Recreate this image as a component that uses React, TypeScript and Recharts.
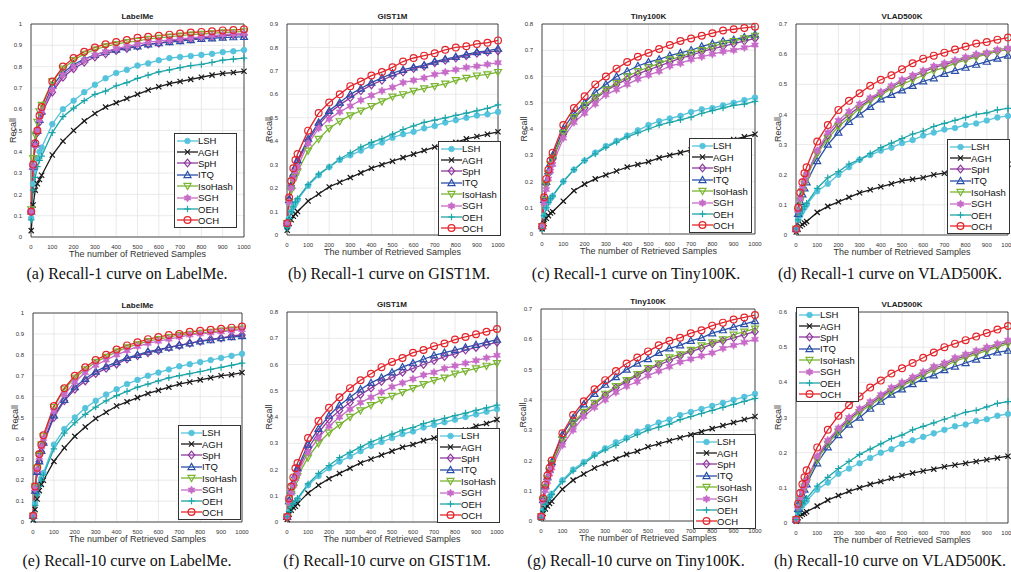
import React from 'react';
import { LineChart, Line, XAxis, YAxis, CartesianGrid, ReferenceArea } from 'recharts';

// number of retrieved samples where each curve was measured
const SAMPLES = [1, 10, 20, 30, 40, 50, 100, 150, 200, 250, 300, 350, 400, 450, 500, 550, 600, 650, 700, 750, 800, 850, 900, 950, 1000];
const X_TICKS = [0, 100, 200, 300, 400, 500, 600, 700, 800, 900, 1000];
const Y_TICKS = [0, 0.1, 0.2, 0.3, 0.4, 0.5, 0.6, 0.7, 0.8, 0.9, 1];
const METHODS = ['LSH', 'AGH', 'SpH', 'ITQ', 'IsoHash', 'SGH', 'OEH', 'OCH'];

// (a) Recall-1, LabelMe
const labelMeR1 = {
  LSH: [0.09, 0.25, 0.32, 0.37, 0.40, 0.42, 0.53, 0.60, 0.64, 0.68, 0.715, 0.745, 0.77, 0.785, 0.805, 0.815, 0.83, 0.84, 0.845, 0.85, 0.855, 0.86, 0.868, 0.872, 0.878],
  AGH: [0.03, 0.15, 0.22, 0.25, 0.27, 0.29, 0.385, 0.45, 0.50, 0.545, 0.58, 0.61, 0.63, 0.65, 0.67, 0.69, 0.705, 0.72, 0.73, 0.74, 0.75, 0.76, 0.768, 0.772, 0.778],
  SpH: [0.12, 0.33, 0.43, 0.49, 0.54, 0.58, 0.68, 0.75, 0.79, 0.82, 0.845, 0.86, 0.875, 0.885, 0.895, 0.905, 0.91, 0.92, 0.925, 0.93, 0.935, 0.94, 0.945, 0.948, 0.95],
  ITQ: [0.12, 0.33, 0.44, 0.50, 0.55, 0.59, 0.71, 0.77, 0.81, 0.835, 0.855, 0.87, 0.88, 0.89, 0.895, 0.905, 0.91, 0.915, 0.92, 0.925, 0.93, 0.933, 0.936, 0.938, 0.94],
  IsoHash: [0.13, 0.37, 0.48, 0.54, 0.59, 0.62, 0.73, 0.79, 0.83, 0.86, 0.88, 0.895, 0.905, 0.915, 0.92, 0.93, 0.935, 0.94, 0.945, 0.95, 0.953, 0.956, 0.96, 0.962, 0.965],
  SGH: [0.12, 0.33, 0.43, 0.50, 0.55, 0.59, 0.69, 0.76, 0.80, 0.83, 0.855, 0.87, 0.885, 0.895, 0.905, 0.915, 0.92, 0.925, 0.93, 0.935, 0.94, 0.945, 0.95, 0.953, 0.955],
  OEH: [0.08, 0.22, 0.28, 0.33, 0.36, 0.38, 0.49, 0.565, 0.605, 0.64, 0.67, 0.685, 0.71, 0.725, 0.745, 0.76, 0.775, 0.785, 0.795, 0.805, 0.81, 0.82, 0.83, 0.835, 0.84],
  OCH: [0.12, 0.34, 0.44, 0.50, 0.57, 0.61, 0.73, 0.80, 0.84, 0.87, 0.89, 0.905, 0.915, 0.925, 0.935, 0.94, 0.945, 0.95, 0.955, 0.96, 0.963, 0.966, 0.97, 0.972, 0.975],
};

// (b) Recall-1, GIST1M
const gistR1 = {
  LSH: [0.03, 0.07, 0.10, 0.12, 0.135, 0.15, 0.21, 0.255, 0.29, 0.32, 0.34, 0.36, 0.38, 0.395, 0.415, 0.43, 0.44, 0.455, 0.465, 0.48, 0.49, 0.50, 0.51, 0.515, 0.525],
  AGH: [0.02, 0.05, 0.065, 0.08, 0.09, 0.10, 0.145, 0.175, 0.205, 0.225, 0.245, 0.265, 0.285, 0.30, 0.315, 0.33, 0.345, 0.36, 0.375, 0.385, 0.395, 0.41, 0.42, 0.43, 0.44],
  SpH: [0.05, 0.15, 0.21, 0.255, 0.285, 0.31, 0.40, 0.47, 0.52, 0.555, 0.585, 0.615, 0.64, 0.66, 0.68, 0.695, 0.71, 0.72, 0.735, 0.745, 0.755, 0.765, 0.775, 0.78, 0.785],
  ITQ: [0.05, 0.15, 0.21, 0.26, 0.29, 0.32, 0.41, 0.48, 0.53, 0.565, 0.60, 0.625, 0.65, 0.67, 0.69, 0.705, 0.715, 0.725, 0.74, 0.75, 0.76, 0.77, 0.78, 0.785, 0.795],
  IsoHash: [0.05, 0.14, 0.19, 0.23, 0.25, 0.27, 0.36, 0.41, 0.455, 0.485, 0.51, 0.53, 0.55, 0.57, 0.59, 0.60, 0.615, 0.625, 0.635, 0.645, 0.66, 0.67, 0.68, 0.685, 0.695],
  SGH: [0.05, 0.14, 0.20, 0.24, 0.27, 0.29, 0.39, 0.455, 0.495, 0.525, 0.55, 0.575, 0.595, 0.615, 0.63, 0.65, 0.66, 0.67, 0.685, 0.695, 0.705, 0.715, 0.72, 0.728, 0.735],
  OEH: [0.03, 0.07, 0.10, 0.12, 0.14, 0.155, 0.215, 0.26, 0.29, 0.325, 0.35, 0.375, 0.395, 0.41, 0.43, 0.45, 0.465, 0.48, 0.49, 0.50, 0.51, 0.52, 0.53, 0.54, 0.555],
  OCH: [0.05, 0.16, 0.23, 0.285, 0.32, 0.345, 0.445, 0.52, 0.565, 0.60, 0.635, 0.655, 0.68, 0.695, 0.715, 0.74, 0.755, 0.765, 0.775, 0.79, 0.80, 0.805, 0.815, 0.82, 0.83],
};

// (c) Recall-1, Tiny100K
const tinyR1 = {
  LSH: [0.02, 0.07, 0.10, 0.12, 0.135, 0.145, 0.20, 0.245, 0.28, 0.31, 0.335, 0.355, 0.375, 0.395, 0.415, 0.43, 0.44, 0.45, 0.465, 0.475, 0.48, 0.49, 0.50, 0.51, 0.52],
  AGH: [0.02, 0.04, 0.06, 0.07, 0.08, 0.085, 0.125, 0.165, 0.19, 0.21, 0.225, 0.24, 0.255, 0.265, 0.275, 0.29, 0.30, 0.31, 0.32, 0.33, 0.34, 0.35, 0.36, 0.37, 0.38],
  SpH: [0.03, 0.13, 0.19, 0.23, 0.26, 0.285, 0.38, 0.44, 0.48, 0.515, 0.545, 0.57, 0.59, 0.61, 0.625, 0.64, 0.655, 0.67, 0.68, 0.695, 0.705, 0.715, 0.725, 0.735, 0.745],
  ITQ: [0.03, 0.13, 0.20, 0.24, 0.27, 0.30, 0.40, 0.46, 0.50, 0.54, 0.57, 0.60, 0.62, 0.64, 0.655, 0.665, 0.68, 0.69, 0.70, 0.715, 0.725, 0.735, 0.74, 0.75, 0.76],
  IsoHash: [0.03, 0.13, 0.19, 0.23, 0.265, 0.29, 0.385, 0.445, 0.49, 0.52, 0.55, 0.575, 0.60, 0.62, 0.635, 0.65, 0.665, 0.675, 0.69, 0.70, 0.715, 0.725, 0.735, 0.745, 0.755],
  SGH: [0.03, 0.12, 0.17, 0.21, 0.24, 0.265, 0.365, 0.425, 0.46, 0.495, 0.53, 0.55, 0.57, 0.59, 0.605, 0.62, 0.64, 0.65, 0.665, 0.675, 0.685, 0.695, 0.70, 0.71, 0.72],
  OEH: [0.02, 0.07, 0.10, 0.12, 0.135, 0.145, 0.20, 0.245, 0.28, 0.305, 0.33, 0.35, 0.37, 0.385, 0.40, 0.415, 0.425, 0.435, 0.445, 0.46, 0.47, 0.48, 0.49, 0.495, 0.505],
  OCH: [0.03, 0.14, 0.21, 0.245, 0.28, 0.31, 0.415, 0.48, 0.525, 0.57, 0.60, 0.63, 0.655, 0.675, 0.69, 0.705, 0.72, 0.735, 0.745, 0.755, 0.765, 0.775, 0.78, 0.785, 0.79],
};

// (d) Recall-1, VLAD500K
const vladR1 = {
  LSH: [0.02, 0.05, 0.065, 0.08, 0.09, 0.10, 0.145, 0.17, 0.20, 0.225, 0.25, 0.265, 0.28, 0.29, 0.305, 0.315, 0.33, 0.34, 0.35, 0.355, 0.365, 0.37, 0.38, 0.39, 0.395],
  AGH: [0.01, 0.02, 0.03, 0.035, 0.04, 0.045, 0.075, 0.095, 0.11, 0.125, 0.14, 0.15, 0.16, 0.17, 0.18, 0.185, 0.19, 0.20, 0.205, 0.21, 0.215, 0.22, 0.225, 0.23, 0.235],
  SpH: [0.02, 0.08, 0.12, 0.15, 0.175, 0.195, 0.275, 0.33, 0.37, 0.40, 0.425, 0.45, 0.47, 0.49, 0.51, 0.525, 0.54, 0.555, 0.565, 0.575, 0.585, 0.595, 0.60, 0.61, 0.615],
  ITQ: [0.02, 0.07, 0.11, 0.135, 0.155, 0.175, 0.245, 0.30, 0.34, 0.375, 0.40, 0.425, 0.45, 0.465, 0.48, 0.495, 0.51, 0.52, 0.535, 0.545, 0.555, 0.565, 0.575, 0.585, 0.595],
  IsoHash: [0.02, 0.08, 0.115, 0.145, 0.17, 0.19, 0.27, 0.32, 0.36, 0.39, 0.42, 0.445, 0.465, 0.485, 0.50, 0.515, 0.53, 0.545, 0.555, 0.57, 0.58, 0.59, 0.60, 0.61, 0.615],
  SGH: [0.02, 0.08, 0.12, 0.155, 0.18, 0.20, 0.28, 0.34, 0.38, 0.41, 0.435, 0.455, 0.475, 0.495, 0.515, 0.53, 0.545, 0.56, 0.57, 0.58, 0.59, 0.60, 0.605, 0.615, 0.62],
  OEH: [0.02, 0.05, 0.07, 0.085, 0.095, 0.105, 0.155, 0.19, 0.21, 0.235, 0.25, 0.27, 0.29, 0.305, 0.32, 0.335, 0.345, 0.36, 0.37, 0.38, 0.39, 0.40, 0.405, 0.415, 0.42],
  OCH: [0.02, 0.09, 0.14, 0.175, 0.205, 0.225, 0.31, 0.365, 0.415, 0.445, 0.47, 0.495, 0.515, 0.53, 0.55, 0.57, 0.585, 0.595, 0.605, 0.615, 0.625, 0.635, 0.64, 0.648, 0.655],
};

// (e) Recall-10, LabelMe
const labelMeR10 = {
  LSH: [0.02, 0.09, 0.14, 0.18, 0.21, 0.235, 0.37, 0.445, 0.50, 0.545, 0.58, 0.61, 0.635, 0.66, 0.68, 0.70, 0.715, 0.73, 0.745, 0.755, 0.765, 0.775, 0.785, 0.795, 0.805],
  AGH: [0.01, 0.06, 0.11, 0.15, 0.18, 0.20, 0.29, 0.355, 0.41, 0.455, 0.495, 0.525, 0.555, 0.575, 0.595, 0.615, 0.63, 0.645, 0.66, 0.67, 0.68, 0.69, 0.70, 0.705, 0.715],
  SpH: [0.03, 0.15, 0.24, 0.29, 0.335, 0.375, 0.50, 0.58, 0.635, 0.675, 0.71, 0.735, 0.755, 0.78, 0.795, 0.81, 0.82, 0.835, 0.845, 0.855, 0.865, 0.875, 0.88, 0.89, 0.895],
  ITQ: [0.03, 0.15, 0.24, 0.29, 0.34, 0.38, 0.51, 0.585, 0.645, 0.685, 0.72, 0.745, 0.765, 0.785, 0.80, 0.815, 0.825, 0.835, 0.845, 0.855, 0.865, 0.87, 0.88, 0.885, 0.89],
  IsoHash: [0.03, 0.17, 0.26, 0.32, 0.37, 0.41, 0.55, 0.635, 0.69, 0.73, 0.765, 0.79, 0.815, 0.835, 0.85, 0.865, 0.875, 0.885, 0.895, 0.90, 0.905, 0.91, 0.915, 0.92, 0.925],
  SGH: [0.03, 0.16, 0.25, 0.31, 0.36, 0.40, 0.53, 0.61, 0.67, 0.715, 0.75, 0.775, 0.80, 0.82, 0.84, 0.855, 0.865, 0.875, 0.885, 0.895, 0.90, 0.905, 0.91, 0.915, 0.92],
  OEH: [0.02, 0.08, 0.13, 0.17, 0.20, 0.225, 0.35, 0.425, 0.475, 0.515, 0.55, 0.58, 0.605, 0.625, 0.645, 0.66, 0.675, 0.69, 0.70, 0.71, 0.72, 0.73, 0.74, 0.75, 0.76],
  OCH: [0.03, 0.17, 0.26, 0.325, 0.37, 0.415, 0.555, 0.64, 0.70, 0.74, 0.775, 0.80, 0.825, 0.845, 0.86, 0.875, 0.885, 0.895, 0.90, 0.91, 0.915, 0.92, 0.925, 0.93, 0.935],
};

// (f) Recall-10, GIST1M
const gistR10 = {
  LSH: [0.02, 0.04, 0.055, 0.065, 0.075, 0.085, 0.14, 0.175, 0.205, 0.23, 0.25, 0.27, 0.29, 0.305, 0.32, 0.335, 0.345, 0.36, 0.37, 0.38, 0.39, 0.40, 0.41, 0.42, 0.43],
  AGH: [0.01, 0.03, 0.045, 0.055, 0.06, 0.07, 0.11, 0.14, 0.165, 0.185, 0.205, 0.225, 0.24, 0.255, 0.27, 0.285, 0.295, 0.31, 0.32, 0.33, 0.34, 0.35, 0.365, 0.375, 0.39],
  SpH: [0.02, 0.08, 0.115, 0.145, 0.17, 0.195, 0.28, 0.34, 0.39, 0.425, 0.455, 0.485, 0.51, 0.535, 0.55, 0.57, 0.585, 0.60, 0.615, 0.63, 0.64, 0.655, 0.665, 0.675, 0.685],
  ITQ: [0.02, 0.08, 0.12, 0.15, 0.18, 0.205, 0.295, 0.355, 0.405, 0.445, 0.475, 0.505, 0.53, 0.55, 0.57, 0.59, 0.605, 0.62, 0.635, 0.645, 0.655, 0.665, 0.675, 0.685, 0.695],
  IsoHash: [0.02, 0.07, 0.105, 0.13, 0.155, 0.175, 0.245, 0.30, 0.34, 0.37, 0.40, 0.425, 0.445, 0.465, 0.48, 0.495, 0.51, 0.525, 0.54, 0.55, 0.565, 0.575, 0.585, 0.595, 0.605],
  SGH: [0.02, 0.075, 0.11, 0.14, 0.165, 0.185, 0.265, 0.32, 0.365, 0.40, 0.43, 0.455, 0.475, 0.495, 0.515, 0.53, 0.545, 0.56, 0.57, 0.585, 0.595, 0.605, 0.615, 0.625, 0.635],
  OEH: [0.02, 0.04, 0.06, 0.07, 0.08, 0.09, 0.145, 0.185, 0.215, 0.245, 0.265, 0.285, 0.305, 0.32, 0.335, 0.35, 0.36, 0.375, 0.385, 0.395, 0.405, 0.415, 0.425, 0.435, 0.445],
  OCH: [0.02, 0.09, 0.135, 0.17, 0.205, 0.225, 0.32, 0.385, 0.435, 0.475, 0.51, 0.54, 0.565, 0.59, 0.61, 0.625, 0.645, 0.655, 0.67, 0.68, 0.695, 0.705, 0.715, 0.725, 0.735],
};

// (g) Recall-10, Tiny100K
const tinyR10 = {
  LSH: [0.01, 0.035, 0.055, 0.07, 0.08, 0.09, 0.135, 0.17, 0.195, 0.22, 0.24, 0.26, 0.275, 0.295, 0.31, 0.325, 0.335, 0.35, 0.36, 0.37, 0.38, 0.39, 0.40, 0.41, 0.42],
  AGH: [0.01, 0.025, 0.04, 0.05, 0.058, 0.065, 0.105, 0.135, 0.155, 0.175, 0.19, 0.205, 0.22, 0.23, 0.245, 0.255, 0.265, 0.275, 0.285, 0.295, 0.305, 0.315, 0.325, 0.335, 0.345],
  SpH: [0.015, 0.07, 0.11, 0.14, 0.165, 0.185, 0.265, 0.32, 0.355, 0.385, 0.415, 0.44, 0.46, 0.48, 0.50, 0.515, 0.53, 0.545, 0.56, 0.57, 0.585, 0.595, 0.605, 0.615, 0.625],
  ITQ: [0.015, 0.07, 0.115, 0.145, 0.17, 0.195, 0.285, 0.34, 0.385, 0.42, 0.45, 0.475, 0.50, 0.52, 0.535, 0.555, 0.57, 0.58, 0.595, 0.605, 0.62, 0.63, 0.64, 0.65, 0.66],
  IsoHash: [0.015, 0.07, 0.11, 0.14, 0.165, 0.19, 0.27, 0.325, 0.36, 0.39, 0.42, 0.445, 0.465, 0.485, 0.505, 0.52, 0.54, 0.55, 0.565, 0.58, 0.59, 0.60, 0.615, 0.625, 0.635],
  SGH: [0.015, 0.065, 0.10, 0.13, 0.155, 0.175, 0.25, 0.30, 0.345, 0.375, 0.40, 0.425, 0.445, 0.46, 0.48, 0.495, 0.51, 0.525, 0.535, 0.545, 0.555, 0.57, 0.58, 0.59, 0.60],
  OEH: [0.01, 0.035, 0.055, 0.068, 0.078, 0.088, 0.13, 0.165, 0.19, 0.215, 0.235, 0.25, 0.27, 0.285, 0.30, 0.31, 0.32, 0.335, 0.345, 0.355, 0.365, 0.375, 0.385, 0.395, 0.405],
  OCH: [0.015, 0.075, 0.12, 0.15, 0.175, 0.20, 0.29, 0.35, 0.395, 0.435, 0.465, 0.495, 0.52, 0.54, 0.56, 0.58, 0.595, 0.605, 0.62, 0.63, 0.645, 0.655, 0.665, 0.672, 0.68],
};

// (h) Recall-10, VLAD500K
const vladR10 = {
  LSH: [0.01, 0.027, 0.04, 0.05, 0.057, 0.063, 0.095, 0.115, 0.14, 0.155, 0.17, 0.185, 0.20, 0.21, 0.225, 0.235, 0.245, 0.255, 0.265, 0.275, 0.28, 0.29, 0.295, 0.305, 0.31],
  AGH: [0.005, 0.015, 0.02, 0.025, 0.028, 0.032, 0.048, 0.065, 0.078, 0.09, 0.10, 0.11, 0.118, 0.127, 0.135, 0.142, 0.148, 0.153, 0.16, 0.165, 0.17, 0.175, 0.18, 0.185, 0.19],
  SpH: [0.01, 0.045, 0.07, 0.09, 0.105, 0.12, 0.185, 0.23, 0.265, 0.295, 0.32, 0.34, 0.36, 0.38, 0.395, 0.41, 0.425, 0.44, 0.45, 0.465, 0.475, 0.485, 0.495, 0.505, 0.515],
  ITQ: [0.01, 0.04, 0.062, 0.08, 0.095, 0.11, 0.17, 0.215, 0.25, 0.28, 0.30, 0.325, 0.345, 0.365, 0.38, 0.395, 0.41, 0.42, 0.435, 0.445, 0.455, 0.465, 0.475, 0.485, 0.49],
  IsoHash: [0.01, 0.045, 0.068, 0.088, 0.103, 0.117, 0.18, 0.225, 0.26, 0.29, 0.315, 0.335, 0.355, 0.375, 0.39, 0.405, 0.42, 0.435, 0.445, 0.46, 0.47, 0.48, 0.49, 0.50, 0.51],
  SGH: [0.01, 0.045, 0.07, 0.09, 0.105, 0.12, 0.19, 0.235, 0.27, 0.30, 0.325, 0.345, 0.365, 0.385, 0.40, 0.415, 0.43, 0.445, 0.455, 0.47, 0.48, 0.49, 0.50, 0.51, 0.52],
  OEH: [0.01, 0.03, 0.045, 0.055, 0.063, 0.07, 0.105, 0.13, 0.155, 0.175, 0.195, 0.21, 0.225, 0.24, 0.25, 0.265, 0.275, 0.285, 0.295, 0.305, 0.315, 0.32, 0.33, 0.34, 0.345],
  OCH: [0.01, 0.055, 0.085, 0.11, 0.13, 0.15, 0.215, 0.265, 0.305, 0.335, 0.36, 0.385, 0.405, 0.425, 0.44, 0.455, 0.47, 0.485, 0.50, 0.51, 0.52, 0.53, 0.54, 0.55, 0.56],
};

const COLORS: Record<string, string> = {
  LSH: '#55c3dc',
  AGH: '#1a1a1a',
  SpH: '#8e3a9e',
  ITQ: '#2a4fa8',
  IsoHash: '#79b530',
  SGH: '#c76bc8',
  OEH: '#1ca5a8',
  OCH: '#e3242b',
};

const PANELS = [
  { title: 'LabelMe', caption: '(a) Recall-1 curve on LabelMe.', yMax: 1, data: labelMeR1 },
  { title: 'GIST1M', caption: '(b) Recall-1 curve on GIST1M.', yMax: 0.9, data: gistR1 },
  { title: 'Tiny100K', caption: '(c) Recall-1 curve on Tiny100K.', yMax: 0.8, data: tinyR1 },
  { title: 'VLAD500K', caption: '(d) Recall-1 curve on VLAD500K.', yMax: 0.7, data: vladR1 },
  { title: 'LabelMe', caption: '(e) Recall-10 curve on LabelMe.', yMax: 1, data: labelMeR10 },
  { title: 'GIST1M', caption: '(f) Recall-10 curve on GIST1M.', yMax: 0.8, data: gistR10 },
  { title: 'Tiny100K', caption: '(g) Recall-10 curve on Tiny100K.', yMax: 0.7, data: tinyR10 },
  { title: 'VLAD500K', caption: '(h) Recall-10 curve on VLAD500K.', yMax: 0.6, data: vladR10 },
];

// plot box (left, top, right, bottom), legend corner and caption centre/top, in page pixels
const LAYOUT = [
  { l: 31, t: 24, r: 244, b: 237, lx: 174, ly: 133, cx: 127, cy: 265 },
  { l: 287, t: 24, r: 498, b: 235, lx: 438, ly: 141, cx: 389, cy: 265 },
  { l: 542, t: 24, r: 755, b: 234, lx: 689, ly: 138, cx: 636, cy: 265 },
  { l: 796, t: 24, r: 1008, b: 235, lx: 947, ly: 139, cx: 890, cy: 265 },
  { l: 33, t: 313, r: 242, b: 522, lx: 178, ly: 425, cx: 127, cy: 552 },
  { l: 287, t: 312, r: 497, b: 522, lx: 437, ly: 428, cx: 387, cy: 552 },
  { l: 541, t: 309, r: 755, b: 521, lx: 693, ly: 434, cx: 636, cy: 552 },
  { l: 796, t: 312, r: 1008, b: 523, lx: 796, ly: 307, cx: 890, cy: 552 },
];

const SANS = 'Arial, "Liberation Sans", Helvetica, sans-serif';

function hexagram(cx: number, cy: number, R: number) {
  const pts: string[] = [];
  for (let i = 0; i < 12; i++) {
    const a = -Math.PI / 2 + (i * Math.PI) / 6;
    const rr = i % 2 === 0 ? R : R * 0.55;
    pts.push(`${cx + rr * Math.cos(a)},${cy + rr * Math.sin(a)}`);
  }
  return pts.join(' ');
}

function Marker({ kind, cx, cy }: { kind: string; cx: number; cy: number }) {
  const c = COLORS[kind];
  const s = 3.2;
  if (cx == null || cy == null) return null;
  switch (kind) {
    case 'LSH':
      return <circle cx={cx} cy={cy} r={2.8} fill={c} stroke={c} strokeWidth={0.8} />;
    case 'AGH':
      return <path d={`M${cx - 2.6},${cy - 2.6}L${cx + 2.6},${cy + 2.6}M${cx - 2.6},${cy + 2.6}L${cx + 2.6},${cy - 2.6}`} stroke={c} strokeWidth={1.2} fill="none" />;
    case 'SpH':
      return <path d={`M${cx},${cy - s - 0.6}L${cx + s},${cy}L${cx},${cy + s + 0.6}L${cx - s},${cy}Z`} stroke={c} strokeWidth={1.2} fill="none" />;
    case 'ITQ':
      return <path d={`M${cx},${cy - s - 0.4}L${cx + s + 0.3},${cy + s * 0.8}L${cx - s - 0.3},${cy + s * 0.8}Z`} stroke={c} strokeWidth={1.2} fill="none" />;
    case 'IsoHash':
      return <path d={`M${cx},${cy + s + 0.4}L${cx + s + 0.3},${cy - s * 0.8}L${cx - s - 0.3},${cy - s * 0.8}Z`} stroke={c} strokeWidth={1.2} fill="none" />;
    case 'SGH':
      return <polygon points={hexagram(cx, cy, 4)} fill={c} stroke={c} strokeWidth={0.6} />;
    case 'OEH':
      return <path d={`M${cx - 3.3},${cy}L${cx + 3.3},${cy}M${cx},${cy - 3.3}L${cx},${cy + 3.3}`} stroke={c} strokeWidth={1.2} fill="none" />;
    default:
      return <circle cx={cx} cy={cy} r={3.4} stroke={c} strokeWidth={1.2} fill="none" />;
  }
}

function LegendBox({ x, y }: { x: number; y: number }) {
  return (
    <div style={{ position: 'absolute', left: x, top: y, background: '#fff', border: '1px solid #333', padding: '1px 3px 1px 2px', fontFamily: SANS, fontSize: 9.5, color: '#111' }}>
      {METHODS.map((m) => (
        <div key={m} style={{ display: 'flex', alignItems: 'center', height: 11.4 }}>
          <svg width={21} height={10} style={{ display: 'block' }}>
            <line x1={0} y1={5} x2={21} y2={5} stroke={COLORS[m]} strokeWidth={1.3} />
            <Marker kind={m} cx={10.5} cy={5} />
          </svg>
          <span style={{ lineHeight: '11px' }}>{m}</span>
        </div>
      ))}
    </div>
  );
}

const YW = 30;
const MT = 20;
const XH = 26;
const MR = 10;

function Panel({ idx }: { idx: number }) {
  const p = PANELS[idx];
  const L = LAYOUT[idx];
  const rows = SAMPLES.map((x, i) => {
    const row: any = { x };
    METHODS.forEach((m) => {
      row[m] = (p.data as any)[m][i];
    });
    return row;
  });
  const yTicks = Y_TICKS.filter((t) => t <= p.yMax + 1e-9);
  const w = L.r - L.l + YW + MR;
  const h = L.b - L.t + MT + XH;
  return (
    <>
      <div style={{ position: 'absolute', left: L.l - YW, top: L.t - MT }}>
        <LineChart width={w} height={h} data={rows} margin={{ top: MT, right: MR, left: 0, bottom: 0 }}>
          <CartesianGrid stroke="#e4e4e4" strokeWidth={0.8} />
          <XAxis
            dataKey="x"
            type="number"
            domain={[0, 1000]}
            ticks={X_TICKS}
            interval={0}
            height={XH}
            tickLine={false}
            axisLine={false}
            tickMargin={2}
            tick={{ fontSize: 6, fill: '#333', fontFamily: SANS }}
            label={{ value: 'The number of Retrieved Samples', position: 'insideBottom', offset: 6, style: { fontSize: 9, fill: '#333', fontFamily: SANS } }}
          />
          <YAxis
            type="number"
            domain={[0, p.yMax]}
            ticks={yTicks}
            interval={0}
            width={YW}
            tickLine={false}
            axisLine={false}
            tickMargin={3}
            tick={{ fontSize: 6, fill: '#333', fontFamily: SANS }}
            label={{ value: 'Recall', angle: -90, position: 'insideLeft', offset: 12, style: { textAnchor: 'middle', fontSize: 9, fill: '#333', fontFamily: SANS } }}
          />
          <ReferenceArea x1={0} x2={1000} y1={0} y2={p.yMax} fill="none" stroke="#222" strokeWidth={0.8} />
          {METHODS.map((m) => (
            <Line
              key={m}
              dataKey={m}
              type="linear"
              stroke={COLORS[m]}
              strokeWidth={1.3}
              isAnimationActive={false}
              dot={(d: any) => <Marker key={`${m}-${d.index}`} kind={m} cx={d.cx} cy={d.cy} />}
              activeDot={false}
            />
          ))}
        </LineChart>
      </div>
      <div style={{ position: 'absolute', left: L.l, width: L.r - L.l, top: L.t - 12, textAlign: 'center', fontFamily: SANS, fontSize: 8, fontWeight: 'bold', color: '#222' }}>
        {p.title}
      </div>
      <LegendBox x={L.lx} y={L.ly} />
      <div style={{ position: 'absolute', left: L.cx - 130, width: 260, top: L.cy, textAlign: 'center', fontFamily: '"Liberation Serif", "Times New Roman", serif', fontSize: 16, color: '#111', whiteSpace: 'nowrap' }}>
        {p.caption}
      </div>
    </>
  );
}

export default function App() {
  return (
    <div style={{ position: 'absolute', left: 0, top: 0, width: 1011, height: 572, background: '#fff', overflow: 'hidden' }}>
      {PANELS.map((_, i) => (
        <Panel key={i} idx={i} />
      ))}
    </div>
  );
}
